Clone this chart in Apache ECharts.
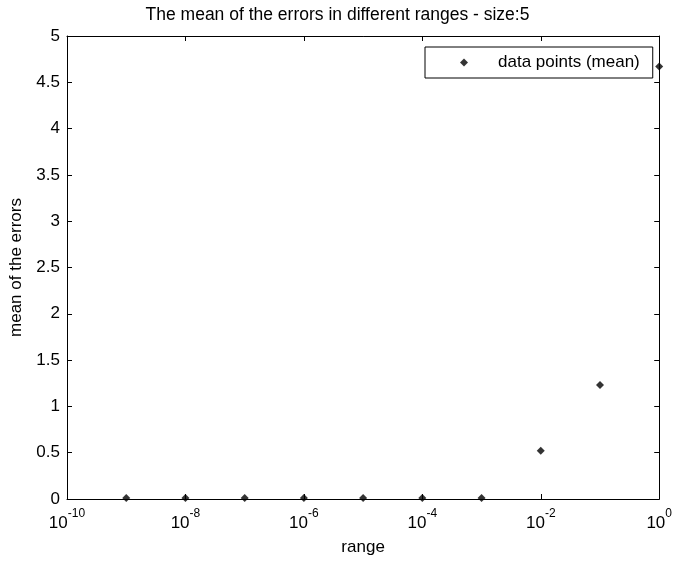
<!DOCTYPE html>
<html>
<head>
<meta charset="utf-8">
<title>mean of the errors</title>
<script src="https://cdn.jsdelivr.net/npm/echarts@6/dist/echarts.min.js"></script>
<style>
  html, body { margin: 0; padding: 0; background: #fff; }
  #main { width: 675px; height: 561px; }
</style>
</head>
<body>
<div id="main"></div>
<script>
// data
var ranges = [1e-9, 1e-8, 1e-7, 1e-6, 1e-5, 1e-4, 1e-3, 1e-2, 1e-1, 1];
var meanErrors = [0.012, 0.012, 0.01, 0.012, 0.01, 0.012, 0.01, 0.52, 1.23, 4.67];
// axis ranges / ticks
var xMin = 1e-10, xMax = 1, xStep = 2; // step in decades
var yMin = 0, yMax = 5, yStep = 0.5;

var font = 'Liberation Sans, Arial, sans-serif';

var chart = echarts.init(document.getElementById('main'));

var points = [];
for (var i = 0; i < ranges.length; i++) {
  points.push([ranges[i], meanErrors[i]]);
}

function powLabel(v) {
  var e = Math.round(Math.log(v) / Math.LN10);
  return '{b|10}{s|' + e + '}';
}

var tickStyle = { show: true, inside: true, length: 5, lineStyle: { color: '#000', width: 1 } };
var lineStyle = { show: true, onZero: false, lineStyle: { color: '#000', width: 1 } };

var option = {
  backgroundColor: '#fff',
  animation: false,
  title: {
    text: 'The mean of the errors in different ranges - size:5',
    left: 'center',
    top: 1,
    textStyle: { fontFamily: font, fontSize: 17.5, fontWeight: 'normal', color: '#000' }
  },
  legend: {
    data: ['data points (mean)'],
    left: 425,
    top: 47,
    padding: [7, 13, 7, 35],
    borderColor: '#000',
    borderWidth: 1,
    backgroundColor: '#fff',
    itemWidth: 8,
    itemHeight: 8,
    textStyle: { fontFamily: font, fontSize: 17, color: '#000', padding: [0, 0, 0, 25] }
  },
  grid: { left: 67, right: 12, top: 36, bottom: 53, containLabel: false },
  xAxis: [{
    type: 'log',
    min: xMin,
    max: xMax,
    interval: xStep,
    name: 'range',
    nameLocation: 'middle',
    nameGap: 40,
    nameTextStyle: { fontFamily: font, fontSize: 17, color: '#000' },
    axisLine: lineStyle,
    axisTick: tickStyle,
    minorTick: { show: false },
    splitLine: { show: false },
    axisLabel: {
      margin: 9,
      formatter: powLabel,
      rich: {
        b: { fontFamily: font, fontSize: 17, color: '#000', lineHeight: 24, verticalAlign: 'bottom' },
        s: { fontFamily: font, fontSize: 12, color: '#000', lineHeight: 24, verticalAlign: 'top' }
      }
    }
  }, {
    type: 'log',
    position: 'top',
    min: xMin,
    max: xMax,
    interval: xStep,
    axisLine: lineStyle,
    axisTick: tickStyle,
    axisLabel: { show: false },
    splitLine: { show: false }
  }],
  yAxis: [{
    type: 'value',
    min: yMin,
    max: yMax,
    interval: yStep,
    name: 'mean of the errors',
    nameLocation: 'middle',
    nameGap: 42,
    nameTextStyle: { fontFamily: font, fontSize: 17, color: '#000' },
    axisLine: lineStyle,
    axisTick: tickStyle,
    splitLine: { show: false },
    axisLabel: { margin: 7, fontFamily: font, fontSize: 17, color: '#000' }
  }, {
    type: 'value',
    position: 'right',
    min: yMin,
    max: yMax,
    interval: yStep,
    axisLine: lineStyle,
    axisTick: tickStyle,
    splitLine: { show: false },
    axisLabel: { show: false }
  }],
  series: [{
    name: 'data points (mean)',
    type: 'scatter',
    xAxisIndex: 0,
    yAxisIndex: 0,
    symbol: 'diamond',
    symbolSize: 8,
    itemStyle: { color: '#000' },
    data: points
  }]
};

chart.setOption(option);
</script>
</body>
</html>
